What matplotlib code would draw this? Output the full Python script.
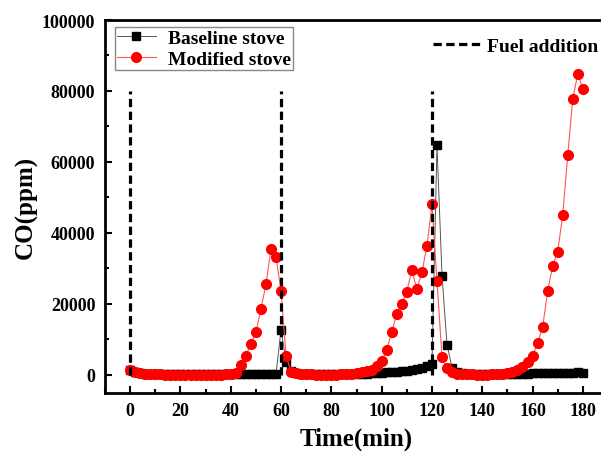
import matplotlib
matplotlib.use("Agg")
import matplotlib.pyplot as plt
from matplotlib.lines import Line2D
from matplotlib.ticker import MultipleLocator

################################################################################
# Data.                                                                        #
################################################################################

time = list(range(0, 182, 2))

baseline = [1300, 800, 500, 350, 250, 200, 150, 150, 150, 150,
            150, 150, 150, 150, 150, 150, 150, 150, 150, 150,
            150, 150, 150, 150, 150, 150, 150, 150, 150, 300,
            12800, 3600, 1000, 500, 300, 200, 150, 150, 150, 150,
            150, 150, 150, 200, 250, 300, 350, 400, 450, 500,
            600, 700, 800, 900, 1000, 1200, 1400, 1700, 2000, 2500,
            3000, 64800, 28000, 8500, 2000, 800, 500, 400, 300, 300,
            300, 300, 300, 300, 300, 300, 350, 350, 400, 400,
            450, 450, 500, 500, 550, 600, 600, 650, 600, 800,
            600]

modified = [1500, 900, 600, 400, 300, 200, 150, 100, 100, 100,
            100, 100, 100, 100, 100, 100, 100, 100, 100, 150,
            300, 600, 2800, 5400, 8700, 12000, 18600, 25500, 35600, 33200,
            23600, 5400, 800, 500, 300, 200, 150, 100, 100, 100,
            100, 100, 150, 200, 300, 450, 700, 1000, 1500, 2400,
            4000, 7000, 12000, 17300, 20000, 23500, 29500, 24200, 28900, 36200,
            48100, 26500, 5000, 1900, 700, 400, 300, 200, 150, 100,
            100, 100, 150, 200, 300, 500, 800, 1300, 2200, 3600,
            5300, 9000, 13400, 23600, 30800, 34700, 45100, 62000, 77800, 84900,
            80600]

fuel_times = [0, 60, 120]
fuel_top = 80000

################################################################################
# Plot.                                                                        #
################################################################################

plt.rcParams['font.family'] = ['Liberation Serif', 'DejaVu Serif']
plt.rcParams['font.weight'] = 'bold'
plt.rcParams['axes.labelweight'] = 'bold'

fig = plt.figure(figsize=(6.01, 4.56), dpi=100)
ax = fig.add_axes([105/601, 62.3/456, 503/601, 372.7/456])

ax.plot(time, baseline, '-', color='#555555', lw=0.7, marker='s', ms=6,
        mec='black', mfc='black', label='Baseline stove', zorder=3)
ax.plot(time, modified, '-', color='#ff5555', lw=0.8, marker='o', ms=7,
        mec='red', mfc='red', label='Modified stove', zorder=4)

for t in fuel_times:
    ax.plot([t, t], [0, fuel_top], color='black', lw=2.3, ls=(0, (2.6, 1.4)),
            zorder=5)

# Axes details.
ax.set_xlim(-10, 190)
ax.set_ylim(-5000, 100000)
ax.xaxis.set_major_locator(MultipleLocator(20))
ax.xaxis.set_minor_locator(MultipleLocator(10))
ax.yaxis.set_major_locator(MultipleLocator(20000))
ax.yaxis.set_minor_locator(MultipleLocator(10000))
ax.tick_params(which='both', direction='in', width=1.5, labelsize=13, pad=7)
ax.tick_params(which='major', length=5)
ax.tick_params(which='minor', length=3)
for s in ax.spines.values():
    s.set_linewidth(2)
for lab in ax.get_xticklabels() + ax.get_yticklabels():
    lab.set_fontweight('bold')

ax.set_xlabel('Time(min)', fontsize=18, fontweight='bold', labelpad=5)
ax.set_ylabel('CO(ppm)', fontsize=18, fontweight='bold', labelpad=3)

# Legends.
leg1 = ax.legend(loc='upper left', bbox_to_anchor=(0.02, 0.981), borderaxespad=0,
                 fancybox=False, edgecolor='#888888', framealpha=1,
                 prop={'weight': 'bold', 'size': 14}, handlelength=2.0,
                 handletextpad=0.6, borderpad=0.1, labelspacing=0.2)
leg1.get_frame().set_linewidth(1)
ax.add_artist(leg1)

fuel_handle = Line2D([], [], color='black', lw=2.3, ls=(0, (2.6, 1.4)))
ax.legend([fuel_handle], ['Fuel addition'], loc='upper left',
          bbox_to_anchor=(0.636, 0.975), borderaxespad=0, frameon=False,
          prop={'weight': 'bold', 'size': 14}, handlelength=2.5,
          handletextpad=0.3)

fig.savefig("out.png", dpi=100)
plt.close()
